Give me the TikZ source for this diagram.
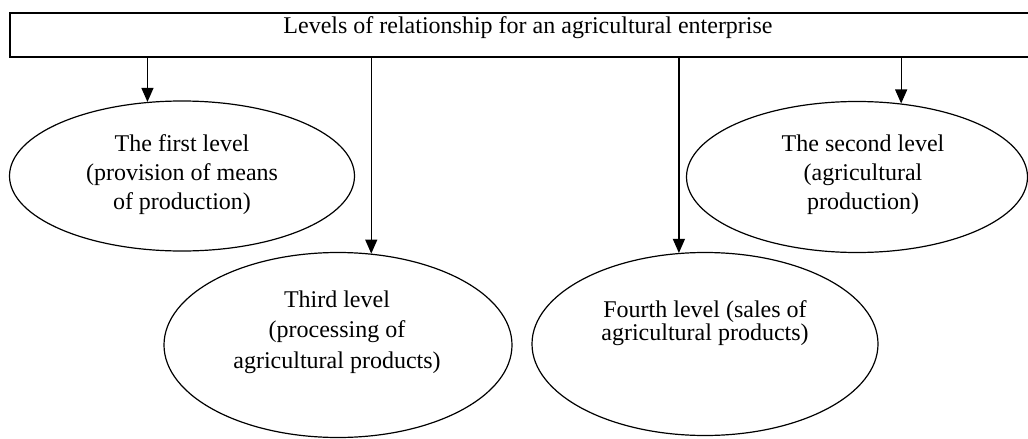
\documentclass[tikz,border=0pt]{standalone}
\usepackage{fontspec}
\setmainfont{Liberation Serif}
\usetikzlibrary{shapes.geometric,arrows.meta}

\tikzset{
  level/.style={draw, ellipse, line width=0.6pt, inner sep=0pt},
  caption/.style={align=center, font=\fontsize{12}{14.5}\selectfont},
  arr/.style={line width=0.6pt, -{Triangle[length=7pt,width=6pt]}}
}

\begin{document}
\begin{tikzpicture}[x=0.5pt,y=-0.5pt]
  \useasboundingbox (0,0) rectangle (1028,439);

  \node[draw, line width=0.8pt, inner sep=0pt, minimum width=511pt, minimum height=22pt,
        label={[caption, xshift=3.5pt, yshift=3.5pt]center:Levels of relationship for an agricultural enterprise}]
        (top) at (521,35) {};

  \node[level, minimum width=172.5pt, minimum height=75pt,
        label={[caption, yshift=0.5pt]center:{The first level\\(provision of means\\of production)}}]
        (first) at (182,176) {};
  \node[level, minimum width=170.5pt, minimum height=75.5pt,
        label={[caption, xshift=3pt, yshift=1pt]center:{The second level\\(agricultural\\production)}}]
        (second) at (857,177) {};
  \node[level, minimum width=174pt, minimum height=92.5pt,
        label={[caption, font=\fontsize{12}{15.25}\selectfont, xshift=-0.5pt, yshift=6.5pt]center:{Third level\\(processing of\\agricultural products)}}]
        (third) at (338,345) {};
  \node[level, minimum width=173pt, minimum height=91.5pt,
        label={[caption, font=\fontsize{12}{11.5}\selectfont, yshift=10.5pt]center:{Fourth level (sales of\\agricultural products)}}]
        (fourth) at (705,344) {};

  \draw[arr] (first.115.5 |- top.south) -- (first.115.5);
  \draw[arr] (second.59.5 |- top.south) -- (second.59.5);
  \draw[arr] (third.70.6 |- top.south) -- (third.70.6);
  \draw[arr] (fourth.106.6 |- top.south) -- (fourth.106.6);
\end{tikzpicture}
\end{document}
